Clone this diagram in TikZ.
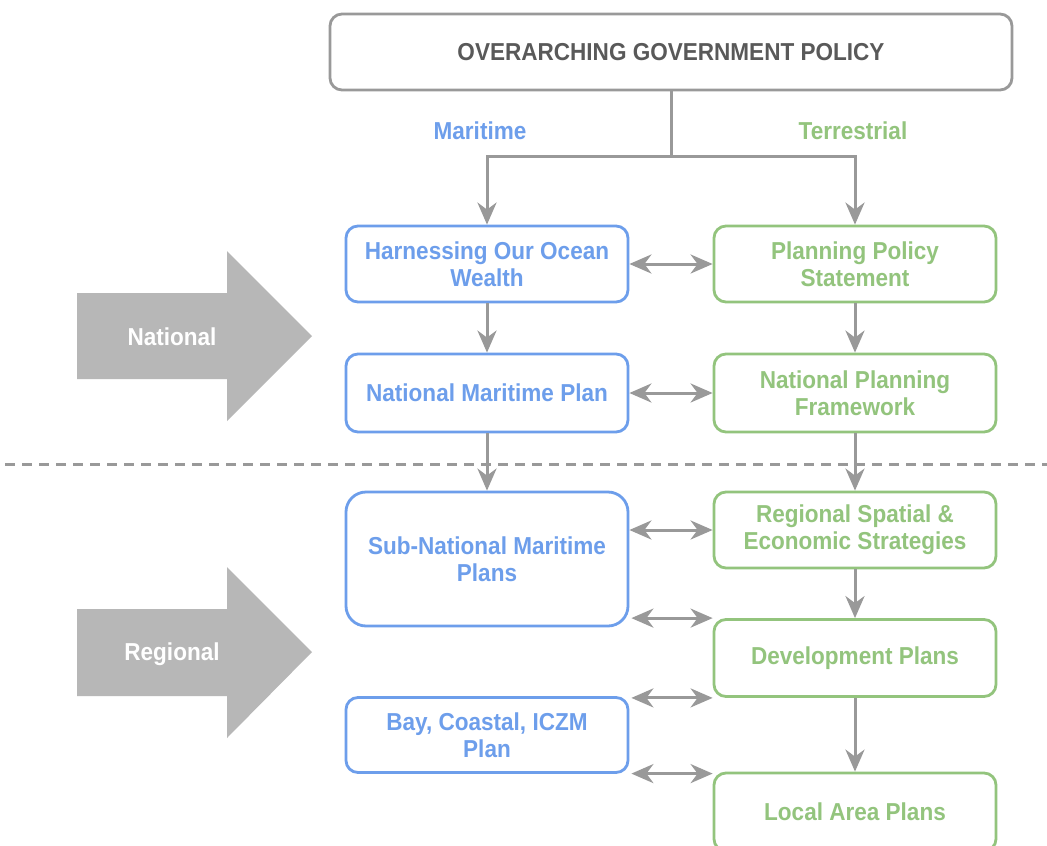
\documentclass[tikz,border=0pt]{standalone}
\usepackage{fontspec}
\setmainfont[FakeStretch=0.92]{Liberation Sans}
\usetikzlibrary{arrows.meta,calc}
\definecolor{mblue}{HTML}{6D9EEB}
\definecolor{tgreen}{HTML}{93C47D}
\definecolor{lgray}{HTML}{999999}
\definecolor{bgray}{HTML}{B7B7B7}
\definecolor{tgray}{HTML}{595959}
\begin{document}
\begin{tikzpicture}[x=1pt,y=-1pt,
  txt/.style={font=\fontsize{24.5}{27}\selectfont\bfseries, align=center},
  bbox/.style={txt, draw=mblue, text=mblue, line width=2.8pt, rounded corners=12pt, minimum width=282pt, inner sep=0pt},
  gbox/.style={txt, draw=tgreen, text=tgreen, line width=2.8pt, rounded corners=12pt, minimum width=282pt, inner sep=0pt},
  conn/.style={draw=lgray, line width=3pt},
  arr/.style={conn, -{Stealth[length=22pt,width=19pt,inset=7pt]}},
  darr/.style={conn, {Stealth[length=22pt,width=19pt,inset=7pt]}-{Stealth[length=22pt,width=19pt,inset=7pt]}},
  bigarrow/.style={fill=bgray, draw=none}
]
\useasboundingbox (0,0) rectangle (1047,846);
\fill[white] (0,0) rectangle (1047,846);

% top
\node[txt, draw=lgray, text=tgray, line width=2.8pt, rounded corners=12pt, minimum width=682pt, minimum height=76pt, inner sep=0pt] (top) at (671,52) {OVERARCHING GOVERNMENT POLICY};
\node[txt, text=mblue] (mar) at (480,131) {Maritime};
\node[txt, text=tgreen] (ter) at (853,131) {Terrestrial};

% boxes
\node[bbox, minimum height=76pt] (hoow) at (487,264) {Harnessing Our Ocean\\Wealth};
\node[gbox, minimum height=76pt] (pps) at (855,264) {Planning Policy\\Statement};
\node[bbox, minimum height=78pt] (nmp) at (487,393) {National Maritime Plan};
\node[gbox, minimum height=78pt] (npf) at (855,393) {National Planning\\Framework};
\node[bbox, minimum height=134pt, rounded corners=20pt] (snmp) at (487,559) {Sub-National Maritime\\Plans};
\node[gbox, minimum height=76pt] (rses) at (855,530) {Regional Spatial \&\\Economic Strategies};
\node[gbox, minimum height=77pt] (dp) at (855,658) {Development Plans};
\node[bbox, minimum height=75pt] (bay) at (487,735) {Bay, Coastal, ICZM\\Plan};
\node[gbox, minimum height=78pt] (lap) at (855,812) {Local Area Plans};

% dashed separator
\coordinate (dl) at (5,464);
\coordinate (dr) at (1047,464);
\draw[draw=lgray, line width=3pt, dash pattern=on 10pt off 7pt] (dl) -- (dr);

% connectors
\coordinate (junc) at (671,156);
\draw[conn] (top.south) -- (junc);
\draw[arr] (junc) -| (hoow.north);
\draw[arr] (junc) -| (pps.north);
\draw[arr] (hoow.south) -- (nmp.north);
\draw[arr] (pps.south) -- (npf.north);
\draw[arr] (nmp.south) -- (snmp.north);
\draw[arr] (npf.south) -- (rses.north);
\draw[arr] (rses.south) -- (dp.north);
\draw[arr] (dp.south) -- (lap.north);

\draw[darr] (hoow.east) -- (pps.west);
\draw[darr] (nmp.east) -- (npf.west);
\draw[darr] (snmp.east |- rses.west) -- (rses.west);
\draw[darr] ($(snmp.east |- dp.north)+(2,0)$) -- (dp.north west);
\draw[darr] ($(bay.east |- dp.south)+(2,0)$) -- (dp.south west);
\draw[darr] ($(bay.east |- lap.north)+(2,2)$) -- ($(lap.north west)+(0,2)$);

% big arrows
\fill[bigarrow] (77,293) -- (227,293) -- (227,251) -- (312,336) -- (227,421) -- (227,379) -- (77,379) -- cycle;
\node[txt, text=white] (nat) at (172,337) {National};
\fill[bigarrow] (77,609) -- (227,609) -- (227,567) -- (312,652) -- (227,738) -- (227,696) -- (77,696) -- cycle;
\node[txt, text=white] (reg) at (172,654) {Regional};
\end{tikzpicture}
\end{document}
